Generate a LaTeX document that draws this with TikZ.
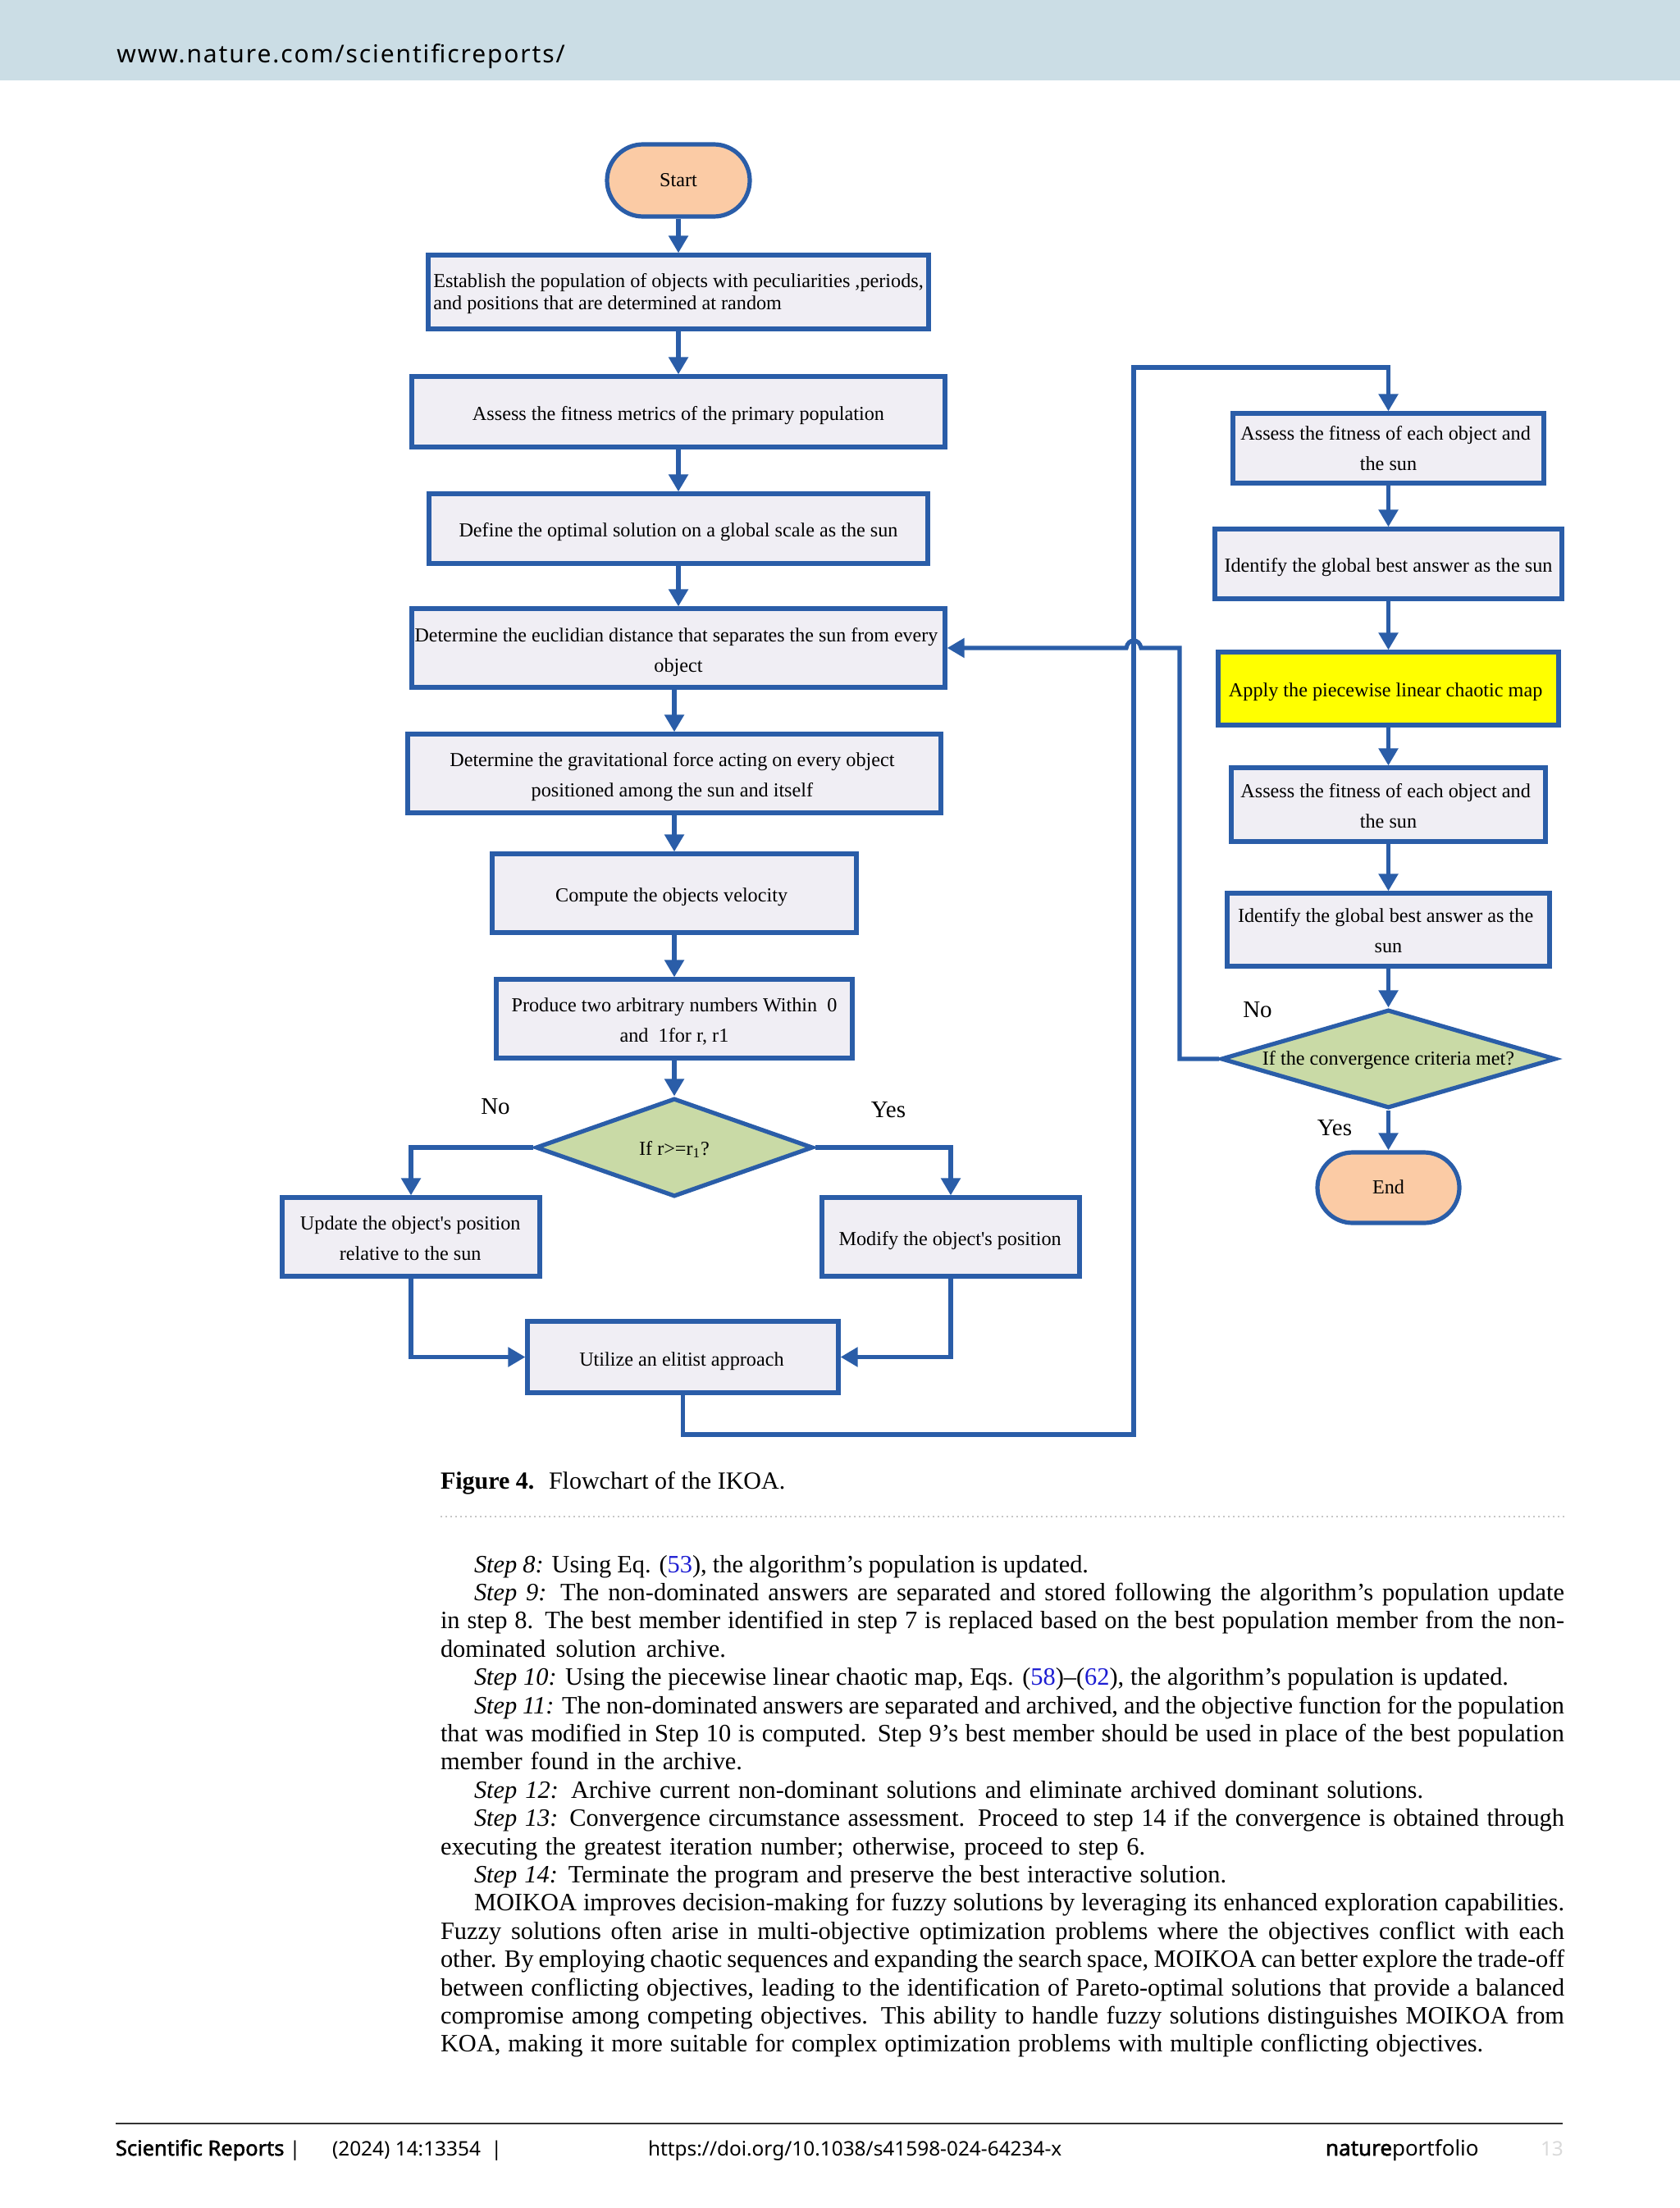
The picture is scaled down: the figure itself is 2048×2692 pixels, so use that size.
\documentclass[tikz,border=0pt]{standalone}
\usepackage{fontspec}
\setmainfont{Liberation Serif}
\newfontfamily\plainserif[Ligatures=ResetAll]{Liberation Serif}
\newfontfamily\hdrfont[LetterSpace=6.3]{Noto Sans}
\newfontfamily\ftrfont{Noto Sans}
\newfontfamily\ftrbold[FakeBold=2]{Noto Sans}
\usetikzlibrary{arrows.meta,shapes.geometric,shapes.misc}
\definecolor{flowblue}{HTML}{2A5DA8}
\definecolor{boxfill}{HTML}{F0EEF4}
\definecolor{peach}{HTML}{FBCBA5}
\definecolor{sage}{HTML}{C9DAA6}
\definecolor{band}{HTML}{CBDDE5}
\definecolor{linkblue}{HTML}{1C1CD2}
\definecolor{hilite}{HTML}{FFFF00}
\tikzset{
  boxbase/.style={draw=flowblue,line width=2.6pt,inner sep=0pt,text=black,align=center,font=\fontsize{12.1}{18.5}\selectfont},
  procbox/.style={boxbase,rectangle,fill=boxfill},
  termbox/.style={boxbase,rounded rectangle,fill=peach},
  decide/.style={boxbase,diamond,fill=sage},
  flow/.style={draw=flowblue,line width=2.6pt,-{Triangle[length=10.5pt,width=11.5pt]}},
  branch/.style={inner sep=0pt,font=\fontsize{14.5}{17}\selectfont},
  bodytext/.style={anchor=base west,inner sep=0pt,outer sep=0pt,font=\fontsize{15.2}{17}\selectfont},
  captext/.style={bodytext,font=\fontsize{15}{17}\selectfont},
  foot/.style={anchor=base west,inner sep=0pt,outer sep=0pt,font=\ftrfont\fontsize{12.2}{15}\selectfont},
}
% text shifted by dx, dy without changing the node size
\newcommand{\shiftxt}[3]{\raisebox{-#2}[\height][\depth]{\kern#1\relax\begin{tabular}{@{}c@{}}#3\end{tabular}\kern-#1\relax}}
% same, taking no room at all, so that a diamond keeps the size it is given
\newcommand{\zerotxt}[2]{\raisebox{-#1}[0pt][0pt]{\makebox[0pt]{\begin{tabular}{@{}c@{}}#2\end{tabular}}}}
% name, x1, y1, x2, y2, style, dx, dy, text  (outer edges in image pixels)
\newcommand{\pxbox}[9]{%
  \node[#6,minimum width={(#4-#2-2)*0.5pt},minimum height={(#5-#3-2)*0.5pt}] (#1) at ({(#2+#4)/2},{(#3+#5)/2}) {\shiftxt{#7}{#8}{#9}};}
% name, line number, x start, x end, text
\newcommand{\bodyln}[5]{%
  \pgfmathsetlengthmacro{\bodyw}{(#4-#3)*0.5pt}%
  \node[bodytext] (#1) at ({#3},{1917+34.4*#2}) {\spaceskip=0.25em plus 1em minus 0.12em\relax\hbox to \bodyw{#5}};}
\newcommand{\stp}[1]{\textit{#1}}
\newcommand{\lnk}[1]{\textcolor{linkblue}{#1}}
\newcommand{\sq}{{\plainserif\char"0027}}
\begin{document}
\begin{tikzpicture}[x=0.5pt,y=-0.5pt]
\useasboundingbox (0,0) rectangle (2048,2692);
\fill[band] (0,0) rectangle (2048,98);
\node[anchor=base west,inner sep=0pt,font=\hdrfont\fontsize{15}{18}\selectfont] (hdr) at (142,76) {www.nature.com/scientificreports/};

% left column
\pxbox{start}{739}{175}{915}{265}{termbox}{0pt}{0.2pt}{Start}
\pxbox{init}{521}{310}{1133}{402}{procbox}{0pt}{1.3pt}{\fontsize{12.1}{13.75}\selectfont\begin{tabular}{@{}l@{}}Establish the population of objects with peculiarities ,periods,\\and positions that are determined at random\end{tabular}}
\pxbox{fit}{501}{458}{1153}{546}{procbox}{0pt}{1.5pt}{Assess the fitness metrics of the primary population}
\pxbox{best}{522}{601}{1132}{688}{procbox}{0pt}{1.1pt}{Define the optimal solution on a global scale as the sun}
\pxbox{dist}{501}{741}{1153}{839}{procbox}{0pt}{1.7pt}{\fontsize{12.0}{18.5}\selectfont \hspace*{-2.6pt}Determine the euclidian distance that separates the sun from every\\object}
\pxbox{grav}{496}{894}{1148}{992}{procbox}{-1.3pt}{1.1pt}{Determine the gravitational force acting on every object\\positioned among the sun and itself}
\pxbox{vel}{599}{1040}{1045}{1138}{procbox}{-1.7pt}{1.5pt}{Compute the objects velocity}
\pxbox{rand}{604}{1193}{1040}{1291}{procbox}{0pt}{1.2pt}{Produce two arbitrary numbers Within\ \ 0\\and\ \ 1for r, r1}
\node[decide,aspect=2.8,minimum width=169pt,minimum height=60pt] (dec) at (822,1399) {\zerotxt{3.8pt}{If r>=r\textsubscript{1}?}};
\pxbox{upd}{343}{1459}{659}{1557}{procbox}{-0.4pt}{1.3pt}{Update the object\sq s position\\relative to the sun}
\pxbox{mod}{1001}{1459}{1317}{1557}{procbox}{-0.4pt}{1.5pt}{Modify the object\sq s position}
\pxbox{elite}{642}{1610}{1023}{1699}{procbox}{-0.8pt}{1.8pt}{Utilize an elitist approach}

% right column
\pxbox{fitb}{1502}{503}{1883}{590}{procbox}{0pt}{0.4pt}{\hspace*{-3.4pt}Assess the fitness of each object and\\the sun}
\pxbox{glob}{1480}{644}{1905}{731}{procbox}{0pt}{1.1pt}{Identify the global best answer as the sun}
\pxbox{chaos}{1484}{794}{1901}{885}{procbox,fill=hilite}{-1.7pt}{1.1pt}{Apply the piecewise linear chaotic map}
\pxbox{fitc}{1500}{935}{1885}{1027}{procbox}{0pt}{1.2pt}{\hspace*{-3.4pt}Assess the fitness of each object and\\the sun}
\pxbox{globb}{1495}{1088}{1890}{1179}{procbox}{0pt}{0.8pt}{\hspace*{-3.4pt}Identify the global best answer as the\\sun}
\node[decide,aspect=3.4,minimum width=204pt,minimum height=60pt] (conv) at (1692.5,1291) {\zerotxt{3pt}{If the convergence criteria met?}};
\pxbox{endn}{1605}{1404}{1780}{1492}{termbox}{0pt}{0pt}{End}

% labels
\node[branch] (lno) at (604,1349) {No};
\node[branch] (lyes) at (1083,1353) {Yes};
\node[branch] (rno) at (1533,1231) {No};
\node[branch] (ryes) at (1627,1375) {Yes};

% connectors
\draw[flow] (start.south) -- (init.north);
\draw[flow] (init.south) -- (fit.north);
\draw[flow] (fit.south) -- (best.north);
\draw[flow] (best.south) -- (dist.north);
\draw[flow] (grav.north |- dist.south) -- (grav.north);
\draw[flow] (grav.south) -- (vel.north -| grav.south);
\draw[flow] (vel.south -| rand.north) -- (rand.north);
\draw[flow] (rand.south -| dec.north) -- (dec.north);
\draw[flow] (dec.west) -| (upd.north);
\draw[flow] (dec.east) -| (mod.north);
\draw[flow] (upd.south) |- (elite.west);
\draw[flow] (mod.south) |- (elite.east);
\coordinate (busa) at (1382,1749);
\coordinate (busb) at (1382,448);
\draw[flow] (elite.south) |- (busa) -- (busb) -| (fitb.north);
\draw[flow] (fitb.south) -- (glob.north);
\draw[flow] (glob.south) -- (chaos.north);
\draw[flow] (chaos.south) -- (fitc.north);
\draw[flow] (fitc.south) -- (globb.north);
\draw[flow] (globb.south) -- (conv.north);
\draw[flow] (conv.south) -- (endn.north);
\coordinate (fba) at (1438,1291);
\coordinate (fbb) at (1438,790);
\coordinate (hopr) at (1391,790);
\coordinate (hopl) at (1373,790);
\draw[flow] (conv.west) -- (fba) -- (fbb) -- (hopr) .. controls (1389,778) and (1375,778) .. (hopl) -- (dist.east);

% caption
\node[captext] (capa) at (537,1815) {\textbf{Figure 4.}};
\node[captext] (capb) at (669,1815) {Flowchart of the IKOA.};
\coordinate (dota) at (537,1849);
\coordinate (dotb) at (1907,1849);
\draw[gray!45,line width=1.2pt,dash pattern=on 1.2pt off 1.8pt] (dota) -- (dotb);

% body
\bodyln{la}{0}{578}{1327}{\stp{Step 8:} Using Eq. (\lnk{53}), the algorithm’s population is updated.}
\bodyln{lb}{1}{578}{1907}{\stp{Step 9:} The non-dominated answers are separated and stored following the algorithm’s population update}
\bodyln{lc}{2}{537}{1907}{in step 8. The best member identified in step 7 is replaced based on the best population member from the non-}
\bodyln{ld}{3}{537}{885}{dominated solution archive.}
\bodyln{le}{4}{578}{1839}{\stp{Step 10:} Using the piecewise linear chaotic map, Eqs. (\lnk{58})–(\lnk{62}), the algorithm’s population is updated.}
\bodyln{lf}{5}{578}{1907}{\stp{Step 11:} The non-dominated answers are separated and archived, and the objective function for the population}
\bodyln{lg}{6}{537}{1907}{that was modified in Step 10 is computed. Step 9’s best member should be used in place of the best population}
\bodyln{lh}{7}{537}{905}{member found in the archive.}
\bodyln{li}{8}{578}{1735}{\stp{Step 12:} Archive current non-dominant solutions and eliminate archived dominant solutions.}
\bodyln{lj}{9}{578}{1907}{\stp{Step 13:} Convergence circumstance assessment. Proceed to step 14 if the convergence is obtained through}
\bodyln{lk}{10}{537}{1396}{executing the greatest iteration number; otherwise, proceed to step 6.}
\bodyln{ll}{11}{578}{1495}{\stp{Step 14:} Terminate the program and preserve the best interactive solution.}
\bodyln{lm}{12}{578}{1907}{MOIKOA improves decision-making for fuzzy solutions by leveraging its enhanced exploration capabilities.}
\bodyln{ln}{13}{537}{1907}{Fuzzy solutions often arise in multi-objective optimization problems where the objectives conflict with each}
\bodyln{lo}{14}{537}{1907}{other. By employing chaotic sequences and expanding the search space, MOIKOA can better explore the trade-off}
\bodyln{lp}{15}{537}{1907}{between conflicting objectives, leading to the identification of Pareto-optimal solutions that provide a balanced}
\bodyln{lq}{16}{537}{1907}{compromise among competing objectives. This ability to handle fuzzy solutions distinguishes MOIKOA from}
\bodyln{lr}{17}{537}{1808}{KOA, making it more suitable for complex optimization problems with multiple conflicting objectives.}

% footer
\coordinate (rulea) at (141,2589);
\coordinate (ruleb) at (1905,2589);
\draw[black!80,line width=1pt] (rulea) -- (ruleb);
\node[foot] (fa) at (141,2628) {{\ftrbold\fontsize{12.7}{15}\selectfont Scientific Reports} |};
\node[foot] (fb) at (405,2628) {(2024) 14:13354 \ |};
\node[foot] (fc) at (790,2628) {https://doi.org/10.1038/s41598-024-64234-x};
\node[foot,font=\ftrfont\fontsize{13}{15}\selectfont] (fd) at (1616,2628) {{\ftrbold nature}portfolio};
\node[foot,text=black!15] (fe) at (1878,2628) {13};
\end{tikzpicture}
\end{document}
